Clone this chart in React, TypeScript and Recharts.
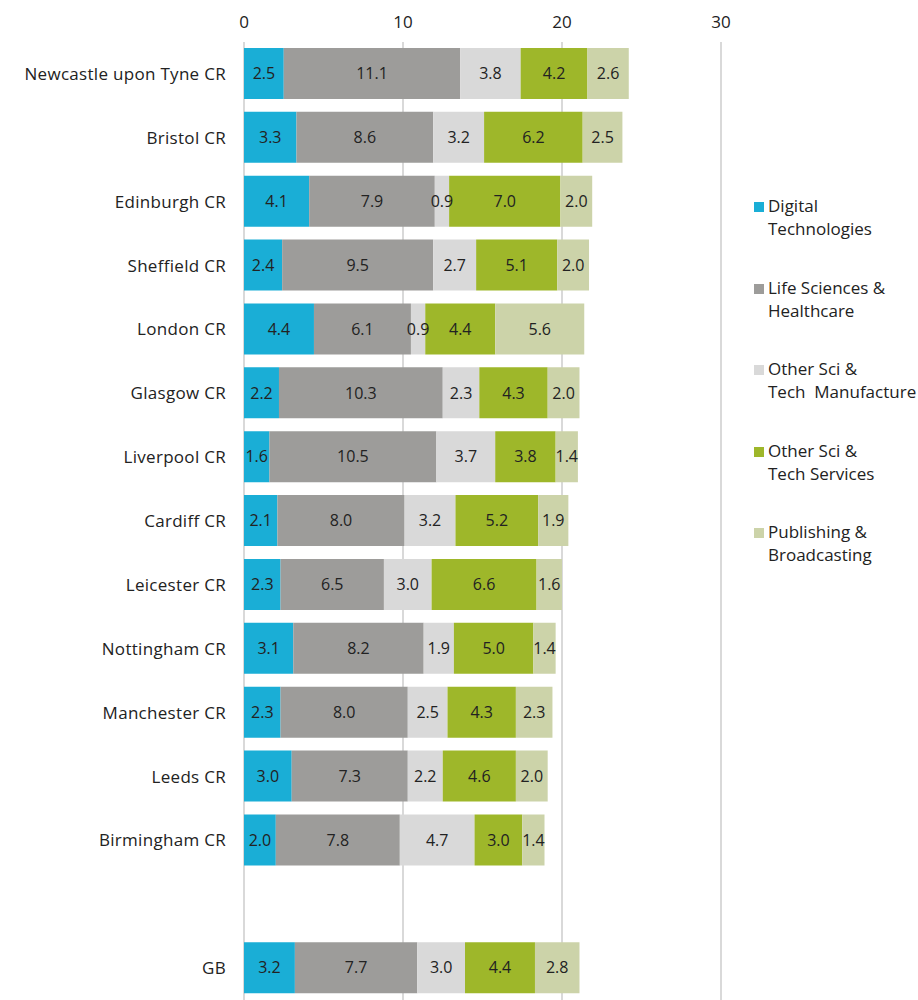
import React from 'react';
import { BarChart, Bar, XAxis, YAxis, CartesianGrid, LabelList } from 'recharts';

const categories = [
  'Newcastle upon Tyne CR', 'Bristol CR', 'Edinburgh CR', 'Sheffield CR', 'London CR',
  'Glasgow CR', 'Liverpool CR', 'Cardiff CR', 'Leicester CR', 'Nottingham CR',
  'Manchester CR', 'Leeds CR', 'Birmingham CR', '', 'GB',
];

const digital = [2.5, 3.3, 4.1, 2.4, 4.4, 2.2, 1.6, 2.1, 2.3, 3.1, 2.3, 3.0, 2.0, null, 3.2];
const lifeSciences = [11.1, 8.6, 7.9, 9.5, 6.1, 10.3, 10.5, 8.0, 6.5, 8.2, 8.0, 7.3, 7.8, null, 7.7];
const otherManufacture = [3.8, 3.2, 0.9, 2.7, 0.9, 2.3, 3.7, 3.2, 3.0, 1.9, 2.5, 2.2, 4.7, null, 3.0];
const otherServices = [4.2, 6.2, 7.0, 5.1, 4.4, 4.3, 3.8, 5.2, 6.6, 5.0, 4.3, 4.6, 3.0, null, 4.4];
const publishing = [2.6, 2.5, 2.0, 2.0, 5.6, 2.0, 1.4, 1.9, 1.6, 1.4, 2.3, 2.0, 1.4, null, 2.8];

const xTicks = [0, 10, 20, 30];

const series = [
  { key: 'digital', name: 'Digital\nTechnologies', color: '#1aaed6', values: digital },
  { key: 'life', name: 'Life Sciences &\nHealthcare', color: '#9d9c9a', values: lifeSciences },
  { key: 'manuf', name: 'Other Sci &\nTech  Manufacture', color: '#d9d9d9', values: otherManufacture },
  { key: 'serv', name: 'Other Sci &\nTech Services', color: '#9eb72a', values: otherServices },
  { key: 'pub', name: 'Publishing &\nBroadcasting', color: '#ccd3a9', values: publishing },
];

const data = categories.map((name, i) => {
  const row: Record<string, any> = { name };
  series.forEach((s) => { row[s.key] = s.values[i]; });
  return row;
});

const font = '"Open Sans", sans-serif';
const fmt = (v: any) => (v == null ? '' : Number(v).toFixed(1));

export default function App() {
  return (
    <div style={{ position: 'absolute', left: 0, top: 0, width: 918, height: 1000, background: '#fff', fontFamily: font }}>
      <BarChart
        width={918}
        height={1000}
        data={data}
        layout="vertical"
        margin={{ top: 2, right: 197, bottom: 0, left: 0 }}
        barSize={51}
      >
        <CartesianGrid horizontal={false} stroke="#d9d9d9" strokeWidth={2} />
        <XAxis
          type="number"
          orientation="top"
          domain={[0, 30]}
          ticks={xTicks}
          height={40}
          axisLine={false}
          tickLine={false}
          tickMargin={8}
          tick={{ fill: '#222', fontSize: 17, fontFamily: font }}
        />
        <YAxis
          type="category"
          dataKey="name"
          width={244}
          axisLine={false}
          tickLine={false}
          tickSize={0}
          tickMargin={18}
          interval={0}
          tick={{ fill: '#222', fontSize: 17, fontFamily: font, letterSpacing: 0.3 }}
        />
        {series.map((s) => (
          <Bar key={s.key} dataKey={s.key} stackId="a" fill={s.color} isAnimationActive={false}>
            <LabelList dataKey={s.key} position="center" formatter={fmt} fill="#222" fontSize={16} fontFamily={font} />
          </Bar>
        ))}
      </BarChart>
      <div style={{ position: 'absolute', left: 754, top: 194 }}>
        {series.map((s) => (
          <div key={s.key} style={{ position: 'relative', height: 81.5 }}>
            <div style={{ position: 'absolute', left: 0, top: 8, width: 10, height: 10, background: s.color }} />
            <div style={{ position: 'absolute', left: 14, top: 0, whiteSpace: 'pre', fontSize: 17, lineHeight: '23px', color: '#222' }}>
              {s.name}
            </div>
          </div>
        ))}
      </div>
    </div>
  );
}
